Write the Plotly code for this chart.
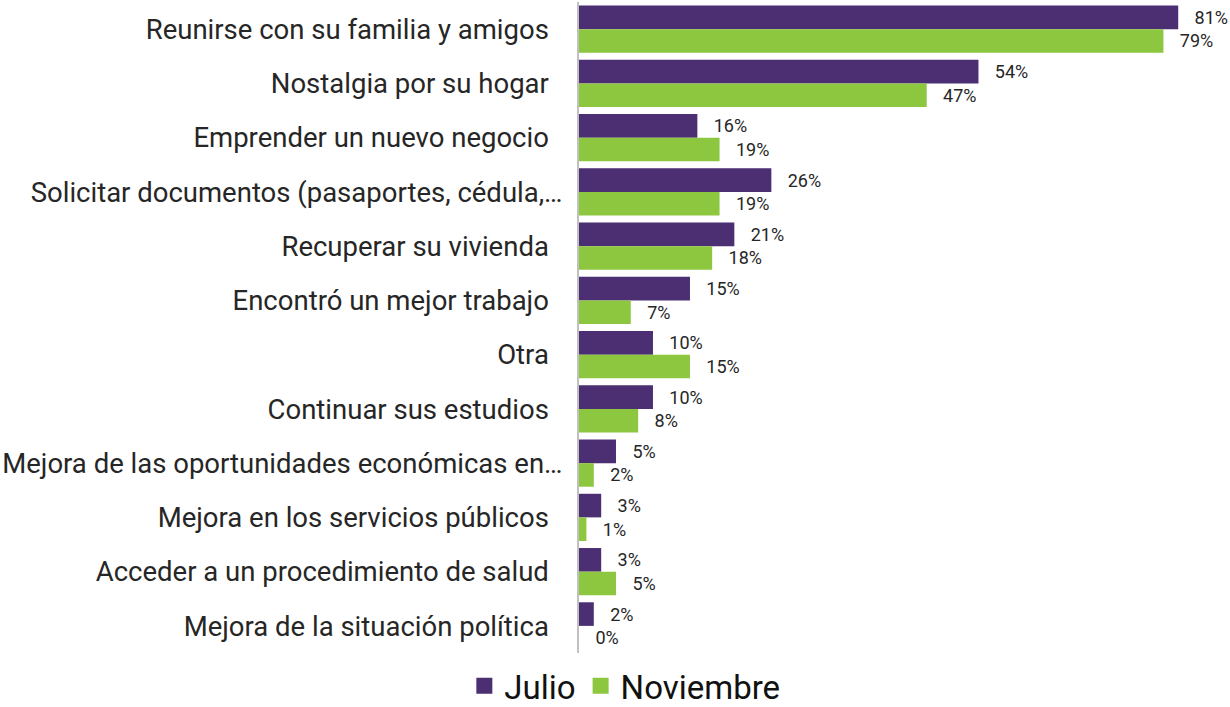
import plotly.graph_objects as go

categories = [
    "Reunirse con su familia y amigos",
    "Nostalgia por su hogar",
    "Emprender un nuevo negocio",
    "Solicitar documentos (pasaportes, cédula,…",
    "Recuperar su vivienda",
    "Encontró un mejor trabajo",
    "Otra",
    "Continuar sus estudios",
    "Mejora de las oportunidades económicas en…",
    "Mejora en los servicios públicos",
    "Acceder a un procedimiento de salud",
    "Mejora de la situación política",
]
julio = [81, 54, 16, 26, 21, 15, 10, 10, 5, 3, 3, 2]
noviembre = [79, 47, 19, 19, 18, 7, 15, 8, 2, 1, 5, 0]
series_names = ["Julio", "Noviembre"]

PURPLE = "#4b2f72"
GREEN = "#8dc63f"
TXT = "#262626"

fig = go.Figure()
for name, vals, col in [(series_names[0], julio, PURPLE), (series_names[1], noviembre, GREEN)]:
    fig.add_trace(go.Bar(
        y=categories, x=vals, name=name, orientation="h",
        marker=dict(color=col, line=dict(width=0)),
        text=[f"\u00a0\u00a0\u00a0{v}%" for v in vals],
        textposition="outside", cliponaxis=False,
        textfont=dict(size=18, color=TXT, family="Roboto"),
        showlegend=False,
    ))
# legend-only entries with larger square swatches
for name, col in [(series_names[0], PURPLE), (series_names[1], GREEN)]:
    fig.add_trace(go.Scatter(
        x=[None], y=[None], mode="markers", name=name,
        marker=dict(symbol="square", size=16, color=col),
    ))

ticktext = [c if c.endswith("…") else c + "\u00a0\u00a0" for c in categories]

fig.update_layout(
    width=1230, height=707,
    barmode="group", bargap=0.13, bargroupgap=0,
    plot_bgcolor="white", paper_bgcolor="white",
    margin=dict(l=579, r=0, t=2, b=54),
    font=dict(family="Roboto", color=TXT),
    showlegend=True,
    legend=dict(orientation="h", xref="container", x=0.508, xanchor="center",
                yref="container", y=0.03, yanchor="middle",
                font=dict(size=33, color="#111111"), itemsizing="trace",
                traceorder="normal", tracegroupgap=0),
)
fig.update_xaxes(visible=False, range=[0, 88])
fig.update_yaxes(autorange="reversed", showline=True, linecolor="#c0c0c0", linewidth=2,
                 ticks="", ticklabelstandoff=9, tickfont=dict(size=27.5, color=TXT),
                 tickmode="array", tickvals=categories, ticktext=ticktext,
                 automargin=False, showgrid=False)

fig.write_html("out.html", config={"displayModeBar": False},
               post_script="document.body.style.margin='0';")
